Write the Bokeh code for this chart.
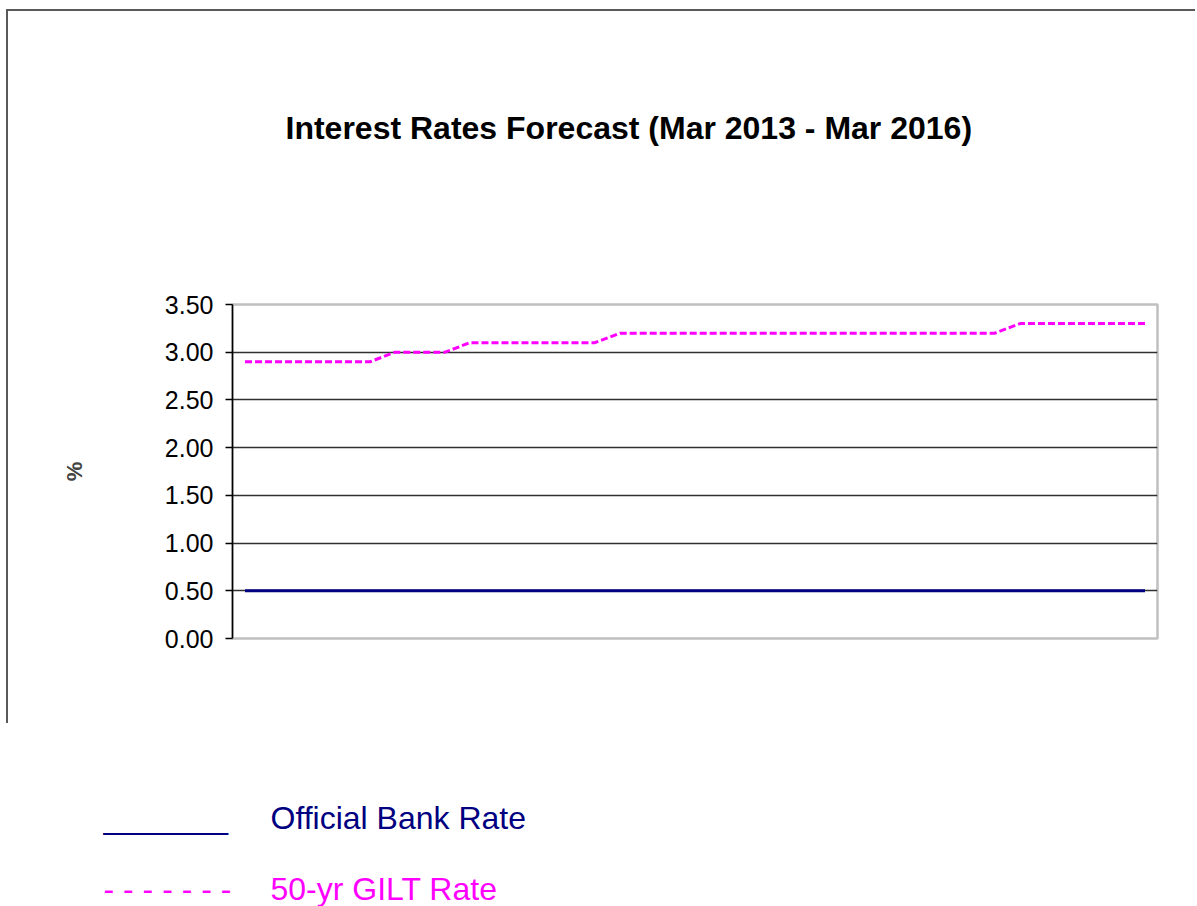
from bokeh.plotting import figure
from bokeh.layouts import column, row
from bokeh.models import (Label, Title, FixedTicker, NumeralTickFormatter,
                          FactorRange, Range1d)
from bokeh.embed import file_html
from bokeh.resources import INLINE

# ---- data ----
months = ["Mar 2013", "Apr 2013", "May 2013", "Jun 2013", "Jul 2013", "Aug 2013",
          "Sep 2013", "Oct 2013", "Nov 2013", "Dec 2013", "Jan 2014", "Feb 2014",
          "Mar 2014", "Apr 2014", "May 2014", "Jun 2014", "Jul 2014", "Aug 2014",
          "Sep 2014", "Oct 2014", "Nov 2014", "Dec 2014", "Jan 2015", "Feb 2015",
          "Mar 2015", "Apr 2015", "May 2015", "Jun 2015", "Jul 2015", "Aug 2015",
          "Sep 2015", "Oct 2015", "Nov 2015", "Dec 2015", "Jan 2016", "Feb 2016",
          "Mar 2016"]
bank_rate = [0.50, 0.50, 0.50, 0.50, 0.50, 0.50, 0.50, 0.50, 0.50, 0.50,
             0.50, 0.50, 0.50, 0.50, 0.50, 0.50, 0.50, 0.50, 0.50, 0.50,
             0.50, 0.50, 0.50, 0.50, 0.50, 0.50, 0.50, 0.50, 0.50, 0.50,
             0.50, 0.50, 0.50, 0.50, 0.50, 0.50, 0.50]
gilt_rate = [2.90, 2.90, 2.90, 2.90, 2.90, 2.90, 3.00, 3.00, 3.00, 3.10,
             3.10, 3.10, 3.10, 3.10, 3.10, 3.20, 3.20, 3.20, 3.20, 3.20,
             3.20, 3.20, 3.20, 3.20, 3.20, 3.20, 3.20, 3.20, 3.20, 3.20,
             3.20, 3.30, 3.30, 3.30, 3.30, 3.30, 3.30]
y_ticks = [0.0, 0.5, 1.0, 1.5, 2.0, 2.5, 3.0, 3.5]
grid_ticks = [0.5, 1.0, 1.5, 2.0, 2.5, 3.0]
title_text = "Interest Rates Forecast (Mar 2013 - Mar 2016)"
y_label = "%"
legend_names = ["Official Bank Rate", "50-yr GILT Rate"]
legend_marks = ["_______", "- - - - - - -"]

BANK_COLOR = "#000080"
GILT_COLOR = "#FF00FF"
FONT = "Liberation Sans"

# ---- chart (inside a box with top/left border) ----
CW, CH = 1189, 714
p = figure(width=CW, height=CH, output_backend="svg", toolbar_location=None,
           x_range=FactorRange(factors=months, range_padding=0),
           y_range=Range1d(0, 3.5),
           min_border_left=224, min_border_right=40,
           min_border_top=293, min_border_bottom=87)
p.title = None
p.styles = {"border-top": "2px solid #5a5a5a", "border-left": "2px solid #5a5a5a",
            "margin-left": "6px", "margin-top": "9px"}

p.background_fill_color = "white"
p.border_fill_color = "white"
p.outline_line_color = "#C0C0C0"
p.outline_line_width = 2.5

p.xaxis.visible = False
p.xgrid.visible = False

p.yaxis.ticker = FixedTicker(ticks=y_ticks)
p.yaxis.formatter = NumeralTickFormatter(format="0.00")
p.yaxis.minor_tick_line_color = None
p.yaxis.axis_line_color = "black"
p.yaxis.axis_line_width = 1.5
p.yaxis.major_tick_line_color = "black"
p.yaxis.major_tick_line_width = 1.5
p.yaxis.major_tick_in = 0
p.yaxis.major_tick_out = 7
p.yaxis.major_label_standoff = 12
p.yaxis.major_label_text_font = FONT
p.yaxis.major_label_text_font_size = "25px"
p.yaxis.major_label_text_color = "black"
p.yaxis.axis_label = y_label
p.yaxis.axis_label_text_font = FONT
p.yaxis.axis_label_text_font_style = "bold"
p.yaxis.axis_label_text_font_size = "22px"
p.yaxis.axis_label_standoff = 75

p.ygrid.ticker = FixedTicker(ticks=grid_ticks)
p.ygrid.grid_line_color = "#303030"
p.ygrid.grid_line_width = 1.5

p.line(months, bank_rate, line_color=BANK_COLOR, line_width=3)
p.line(months, gilt_rate, line_color=GILT_COLOR, line_width=3, line_dash="7 3")

# title pushed upward by two trailing empty lines
p.add_layout(Title(text=title_text + "\n\n", align="left", offset=53, standoff=144,
                   text_font=FONT, text_font_style="bold", text_line_height=1.2,
                   text_font_size="32px", text_color="black"), "above")

# ---- legend area below the box ----
LW, LH = 1197, 183
lg = figure(width=LW, height=LH, output_backend="svg", toolbar_location=None,
            x_range=Range1d(0, 1), y_range=Range1d(0, 1),
            min_border=0)
lg.axis.visible = False
lg.grid.visible = False
lg.outline_line_color = None
lg.background_fill_color = "white"
lg.border_fill_color = "white"

rows_y = [89, 18]
colors = [BANK_COLOR, GILT_COLOR]
for mark, name, yy, col in zip(legend_marks, legend_names, rows_y, colors):
    lg.add_layout(Label(x=103, y=yy, x_units="screen", y_units="screen",
                        text=mark, text_font=FONT, text_font_size="32px",
                        text_color=col, text_baseline="alphabetic"))
    lg.add_layout(Label(x=270, y=yy, x_units="screen", y_units="screen",
                        text=name, text_font=FONT, text_font_size="32px",
                        text_color=col, text_baseline="alphabetic"))

layout = column(p, row(lg), spacing=0)
open("out.html", "w").write(file_html(layout, INLINE))
